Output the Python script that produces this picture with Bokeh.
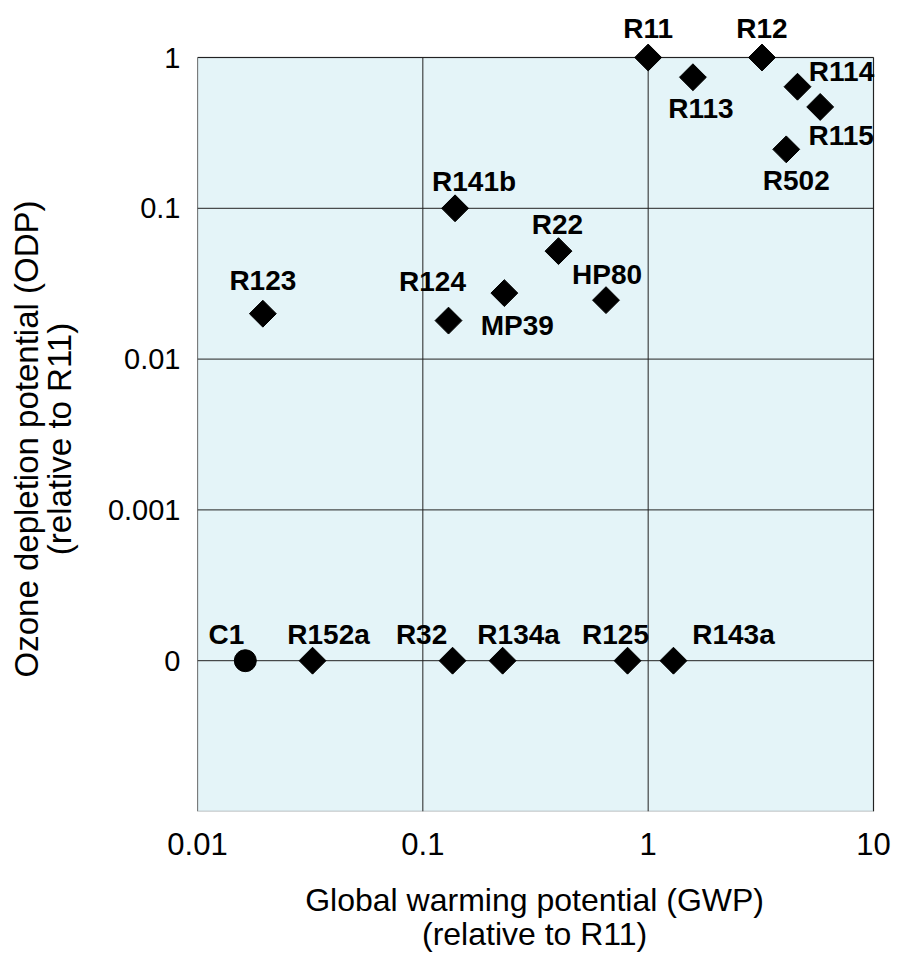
import math
from bokeh.plotting import figure
from bokeh.models import Range1d, FixedTicker, ColumnDataSource, BoxAnnotation
from bokeh.core.properties import value
from bokeh.embed import file_html
from bokeh.resources import INLINE

# --- data ---
names = ["R11", "R12", "R113", "R114", "R115", "R502", "R141b", "R22", "R123",
         "R124", "MP39", "HP80", "R152a", "R32", "R134a", "R125", "R143a"]
gwp = [1.0, 3.2, 1.58, 4.6, 5.8, 4.1, 0.139, 0.40, 0.0195,
       0.130, 0.23, 0.65, 0.0324, 0.1355, 0.226, 0.81, 1.295]
odp = [1.0, 1.0, 0.74, 0.64, 0.47, 0.246, 0.10, 0.052, 0.020,
       0.018, 0.0274, 0.0246, 0.0001, 0.0001, 0.0001, 0.0001, 0.0001]

c1_name = ["C1"]
c1_gwp = [0.0163]
c1_odp = [0.0001]

# label placement (screen offsets, px)
lab_dx = [0, 0, 8, 44, 21, 10, 19, -1, 0, -16, 13, 1, 16, -31, 16, -12, 60]
lab_dy = [-29, -29, 31, -15, 29, 31, -27, -27, -33, -39, 32, -26, -26, -26, -26, -26, -26]
c1_dx = [-19]
c1_dy = [-26]

x_ticks = [0.01, 0.1, 1, 10]
x_tick_labels = ["0.01", "0.1", "1", "10"]
y_ticks = [1, 0.1, 0.01, 0.001, 0.0001]
y_tick_labels = ["1", "0.1", "0.01", "0.001", "0"]
x_lo, x_hi = 0.01, 10
y_lo, y_hi = 0.00001, 1

x_title_lines = ["Global warming potential (GWP)", "(relative to R11)"]
y_title_lines = ["Ozone depletion potential (ODP)", "(relative to R11)"]

FONT = "Liberation Sans, Arial, sans-serif"

# layout (px)
BOX_W, BOX_H = 676, 754
EXTRA_TOP, EXTRA_RIGHT = 46, 16
px_dec_x = BOX_W / math.log10(x_hi / x_lo)
px_dec_y = BOX_H / math.log10(y_hi / y_lo)
x_end = x_hi * 10 ** (EXTRA_RIGHT / px_dec_x)
y_end = y_hi * 10 ** (EXTRA_TOP / px_dec_y)

# the frame is larger than the box (room for marks at its edge); pad the titles
# with non-breaking spaces so they stay centred on the box
NBSP = "\u00a0"
x_title = "\n".join(t + NBSP * 2 for t in x_title_lines)
y_title = "\n".join(t + NBSP * 6 for t in y_title_lines)

p = figure(
    width=897, height=953,
    frame_width=BOX_W + EXTRA_RIGHT, frame_height=BOX_H + EXTRA_TOP,
    x_axis_type="log", y_axis_type="log",
    x_range=Range1d(x_lo, x_end), y_range=Range1d(y_lo, y_end),
    output_backend="svg", toolbar_location=None,
    min_border_left=197, min_border_top=11, min_border_right=8, min_border_bottom=142,
)
p.background_fill_color = "white"
p.border_fill_color = "white"
p.outline_line_color = None
p.grid.visible = False

box = BoxAnnotation(left=x_lo, right=x_hi, bottom=y_lo, top=y_hi,
                    fill_color="#e4f4f8", fill_alpha=1.0,
                    line_color="black", line_width=1.5, level="underlay")
p.add_layout(box)

# grid lines restricted to the box, from the tick lists
p.segment(x0=x_ticks, y0=[y_lo] * len(x_ticks), x1=x_ticks, y1=[y_hi] * len(x_ticks),
          line_color="#222222", line_width=1)
p.segment(x0=[x_lo] * len(y_ticks), y0=y_ticks, x1=[x_hi] * len(y_ticks), y1=y_ticks,
          line_color="#222222", line_width=1)

for ax in (p.xaxis[0], p.yaxis[0]):
    ax.axis_line_color = None
    ax.major_tick_in = 0
    ax.major_tick_out = 0
    ax.minor_tick_in = 0
    ax.minor_tick_out = 0
    ax.major_label_text_font = FONT
    ax.major_label_text_color = "black"
    ax.axis_label_text_font = FONT
    ax.axis_label_text_font_style = "normal"
    ax.axis_label_text_color = "black"

p.xaxis.major_label_text_font_size = "31px"
p.yaxis.major_label_text_font_size = "29px"
p.xaxis.axis_label_text_font_size = "32px"
p.yaxis.axis_label_text_font_size = "33px"
p.xaxis.axis_label_text_line_height = 0.95
p.yaxis.axis_label_text_line_height = 0.88

p.xaxis.ticker = FixedTicker(ticks=x_ticks, minor_ticks=[])
p.yaxis.ticker = FixedTicker(ticks=y_ticks, minor_ticks=[])
p.xaxis.major_label_overrides = {t: l for t, l in zip(x_ticks, x_tick_labels)}
p.yaxis.major_label_overrides = {t: l for t, l in zip(y_ticks, y_tick_labels)}
p.xaxis.major_label_standoff = 21
p.yaxis.major_label_standoff = 17
p.xaxis.axis_label = x_title
p.yaxis.axis_label = y_title
p.xaxis.axis_label_standoff = 24
p.yaxis.axis_label_standoff = 27

src = ColumnDataSource(dict(x=gwp, y=odp, name=names, dx=lab_dx, dy=lab_dy))
c1 = ColumnDataSource(dict(x=c1_gwp, y=c1_odp, name=c1_name, dx=c1_dx, dy=c1_dy))

p.scatter("x", "y", source=src, marker="square", size=19, angle=math.pi / 4,
          fill_color="black", line_color="black")
p.scatter("x", "y", source=c1, marker="circle", size=22,
          fill_color="black", line_color="black")

for s in (src, c1):
    p.text("x", "y", text="name", source=s, x_offset="dx", y_offset="dy",
           text_align="center", text_baseline="middle",
           text_font=value(FONT), text_font_style="bold",
           text_font_size="28px", text_color="black")

open("out.html", "w").write(file_html(p, INLINE))
